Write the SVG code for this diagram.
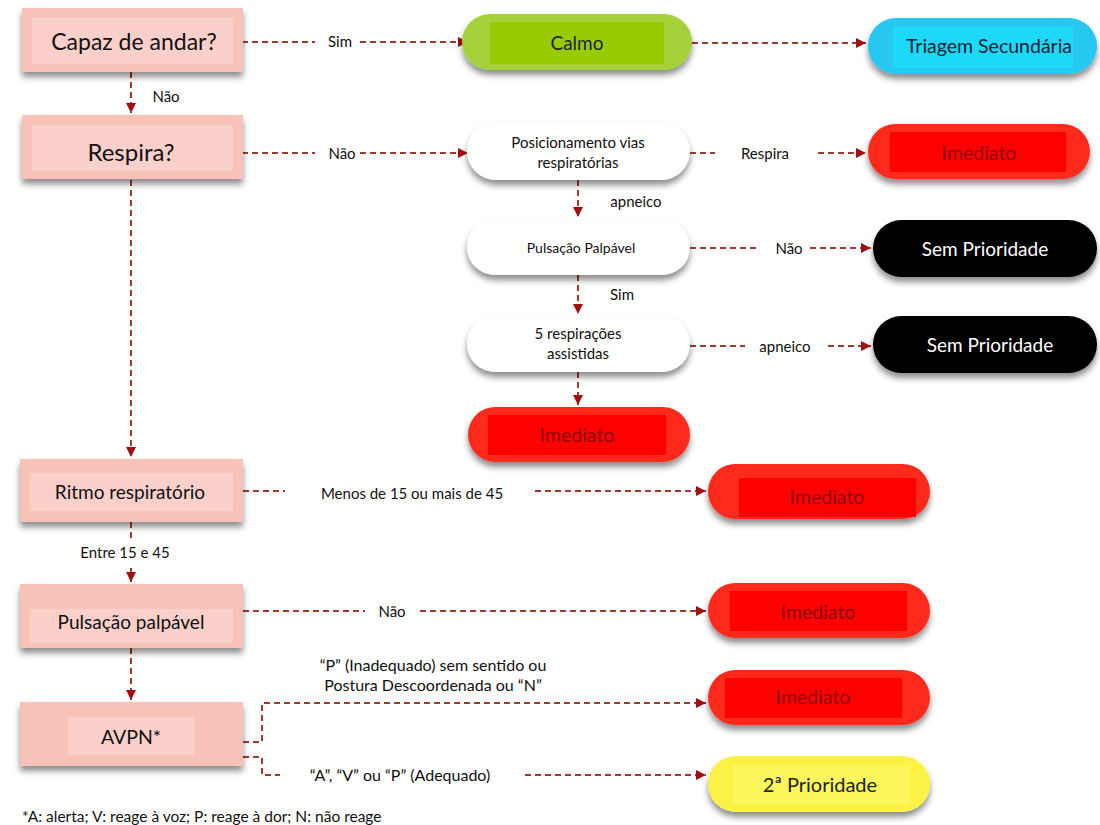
<svg xmlns="http://www.w3.org/2000/svg" width="1100" height="825" viewBox="0 0 1100 825">
<style>
text{font-family:Lato,"Liberation Sans",sans-serif;fill:#111}
.q{font-size:23px;text-anchor:middle}
.qs{font-size:19px;text-anchor:middle}
.lb{font-size:15px;text-anchor:middle}
.lb2{font-size:16px;text-anchor:middle}
.w{font-size:15px;text-anchor:middle}
.r{font-size:19.5px;text-anchor:middle;fill:#8a0000}
.wt{font-size:19px;text-anchor:middle;fill:#fff}
.c{fill:none;stroke:#a33a32;stroke-width:2;stroke-dasharray:6 4}
.box{fill:#f8c2b9}
.inner{fill:#fbd0ca}
</style>
<defs>
<filter id="sh" x="-10%" y="-20%" width="120%" height="160%">
<feDropShadow dx="0" dy="5" stdDeviation="3" flood-color="#000" flood-opacity="0.45"/>
</filter>
<marker id="ar" viewBox="0 0 10 10" refX="10" refY="5" markerWidth="10" markerHeight="10" markerUnits="userSpaceOnUse" orient="auto">
<path d="M0,0 L10,5 L0,10 z" fill="#a01010"/>
</marker>
</defs>
<rect width="1100" height="825" fill="#fff"/>

<g id="connectors">
<path class="c" d="M242,42 H315 M360,42 H468" marker-end="url(#ar)"/>
<path class="c" d="M692,43 H866" marker-end="url(#ar)"/>
<path class="c" d="M131,72 V113" marker-end="url(#ar)"/>
<path class="c" d="M242,153 H315 M360,153 H468" marker-end="url(#ar)"/>
<path class="c" d="M690,153 H715 M818,153 H866" marker-end="url(#ar)"/>
<path class="c" d="M578,180 V217" marker-end="url(#ar)"/>
<path class="c" d="M690,248 H760 M810,248 H871" marker-end="url(#ar)"/>
<path class="c" d="M578,275 V314" marker-end="url(#ar)"/>
<path class="c" d="M690,346 H745 M828,346 H871" marker-end="url(#ar)"/>
<path class="c" d="M578,372 V405" marker-end="url(#ar)"/>
<path class="c" d="M131,180 V457" marker-end="url(#ar)"/>
<path class="c" d="M243,491 H285 M535,491 H706" marker-end="url(#ar)"/>
<path class="c" d="M131,522 V540 M131,568 V582" marker-end="url(#ar)"/>
<path class="c" d="M243,611 H365 M420,611 H706" marker-end="url(#ar)"/>
<path class="c" d="M131,648 V700" marker-end="url(#ar)"/>
<path class="c" d="M243,742 H262 V703 H706" marker-end="url(#ar)"/>
<path class="c" d="M243,757 H262 V775 H280 M525,775 H706" marker-end="url(#ar)"/>
<rect x="145" y="78" width="50" height="34" fill="#fff"/>
<text class="lb" x="166" y="102">Não</text>
<text class="lb" x="340" y="47">Sim</text>
<text class="lb" x="342" y="159">Não</text>
<text class="lb" x="765" y="159">Respira</text>
<rect x="598" y="183" width="92" height="33" fill="#fff"/>
<text class="lb" x="636" y="207">apneico</text>
<text class="lb" x="789" y="254">Não</text>
<rect x="596" y="278" width="60" height="34" fill="#fff"/>
<text class="lb" x="622" y="300">Sim</text>
<text class="lb" x="785" y="352">apneico</text>
<text class="lb" x="412" y="499">Menos de 15 ou mais de 45</text>
<text class="lb" x="125" y="558">Entre 15 e 45</text>
<text class="lb" x="392" y="617">Não</text>
<text class="lb2" x="433" y="671">“P” (Inadequado) sem sentido ou</text>
<text class="lb2" x="433" y="691">Postura Descoordenada ou “N”</text>
<text class="lb2" x="400" y="781">“A”, “V” ou “P” (Adequado)</text>
</g>

<g id="n-capaz">
<rect class="box" x="22" y="8" width="221" height="64" filter="url(#sh)"/>
<rect class="inner" x="32" y="18" width="201" height="46"/>
<text class="q" x="134" y="50">Capaz de andar?</text>
</g>
<g id="n-respira">
<rect class="box" x="22" y="115" width="221" height="64" filter="url(#sh)"/>
<rect class="inner" x="32" y="125" width="201" height="46"/>
<text class="q" x="131" y="161" style="font-size:24px">Respira?</text>
</g>
<g id="n-ritmo">
<rect class="box" x="20" y="459" width="223" height="63" filter="url(#sh)"/>
<rect class="inner" x="30" y="473" width="203" height="38"/>
<text class="qs" x="130" y="499">Ritmo respiratório</text>
</g>
<g id="n-pulsacao">
<rect class="box" x="20" y="584" width="223" height="64" filter="url(#sh)"/>
<rect class="inner" x="30" y="609" width="203" height="34"/>
<text class="qs" x="131" y="629">Pulsação palpável</text>
</g>
<g id="n-avpn">
<rect class="box" x="20" y="702" width="223" height="64" filter="url(#sh)"/>
<rect class="inner" x="68" y="717" width="126" height="38"/>
<text class="qs" x="131" y="744" style="font-size:19.5px">AVPN*</text>
</g>

<g id="n-calmo">
<rect x="462" y="14" width="230" height="56" rx="28" fill="#a6d13a" filter="url(#sh)"/>
<rect x="490" y="22" width="174" height="42" fill="#99cc00"/>
<text class="qs" x="577" y="50" style="fill:#222">Calmo</text>
</g>
<g id="n-triagem">
<rect x="868" y="18" width="229" height="56" rx="28" fill="#26c8f2" filter="url(#sh)"/>
<rect x="893" y="26" width="180" height="42" fill="#1ed8fa"/>
<text class="qs" x="989" y="53" style="fill:#123;font-size:19.5px">Triagem Secundária</text>
</g>
<g id="n-posic">
<rect x="467" y="122" width="223" height="58" rx="29" fill="#fff" filter="url(#sh)"/>
<text class="w" x="578" y="148">Posicionamento vias</text>
<text class="w" x="578" y="168">respiratórias</text>
</g>
<g id="n-imed1">
<rect x="868" y="124" width="222" height="55" rx="27.5" fill="#ff2a1a" filter="url(#sh)"/>
<rect x="890" y="132" width="176" height="40" fill="#ff0000"/>
<text class="r" x="979" y="160">Imediato</text>
</g>
<g id="n-pulspalp">
<rect x="467" y="219" width="223" height="56" rx="28" fill="#fff" filter="url(#sh)"/>
<text class="w" x="581" y="253" style="font-size:14px">Pulsação Palpável</text>
</g>
<g id="n-semp1">
<rect x="873" y="220" width="224" height="57" rx="28.5" fill="#000" filter="url(#sh)"/>
<text class="wt" x="985" y="256">Sem Prioridade</text>
</g>
<g id="n-5resp">
<rect x="467" y="316" width="223" height="56" rx="28" fill="#fff" filter="url(#sh)"/>
<text class="w" x="578" y="339">5 respirações</text>
<text class="w" x="578" y="359">assistidas</text>
</g>
<g id="n-semp2">
<rect x="873" y="316" width="224" height="57" rx="28.5" fill="#000" filter="url(#sh)"/>
<text class="wt" x="990" y="352">Sem Prioridade</text>
</g>
<g id="n-imed2">
<rect x="468" y="407" width="222" height="55" rx="27.5" fill="#ff2a1a" filter="url(#sh)"/>
<rect x="488" y="415" width="178" height="40" fill="#ff0000"/>
<text class="r" x="577" y="442">Imediato</text>
</g>
<g id="n-imed3">
<rect x="708" y="464" width="222" height="55" rx="27.5" fill="#ff2a1a" filter="url(#sh)"/>
<rect x="739" y="478" width="177" height="39" fill="#ff0000"/>
<text class="r" x="827" y="504">Imediato</text>
</g>
<g id="n-imed4">
<rect x="708" y="583" width="222" height="55" rx="27.5" fill="#ff2a1a" filter="url(#sh)"/>
<rect x="730" y="591" width="177" height="40" fill="#ff0000"/>
<text class="r" x="818" y="619">Imediato</text>
</g>
<g id="n-imed5">
<rect x="708" y="670" width="222" height="55" rx="27.5" fill="#ff2a1a" filter="url(#sh)"/>
<rect x="725" y="678" width="177" height="40" fill="#ff0000"/>
<text class="r" x="813" y="704">Imediato</text>
</g>
<g id="n-prio2">
<rect x="708" y="756" width="222" height="56" rx="28" fill="#fbf244" filter="url(#sh)"/>
<rect x="733" y="765" width="177" height="39" fill="#fcf75c"/>
<text class="qs" x="820" y="792" style="fill:#222;font-size:20px">2ª Prioridade</text>
</g>

<text x="22" y="822" style="font-size:15.5px">*A: alerta; V: reage à voz; P: reage à dor; N: não reage</text>
</svg>
